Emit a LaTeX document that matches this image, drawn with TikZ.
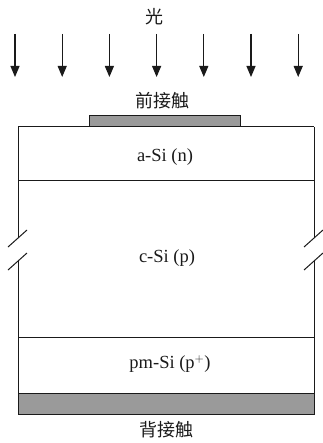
\documentclass[tikz,border=0pt]{standalone}
\usepackage{fontspec}
\setmainfont{Liberation Serif}
\newfontfamily\cjk{Noto Sans CJK SC}
\usetikzlibrary{arrows.meta, positioning}
\definecolor{contact}{HTML}{9A9A9A}
\definecolor{ink}{HTML}{1A1A1A}

\begin{document}
\begin{tikzpicture}[
  x=1pt, y=-1pt,
  >={Triangle[length=11pt, width=9pt]},
  every node/.style={text=ink, font=\fontsize{18.5}{22}\selectfont},
  layer/.style={draw=ink, line width=1pt},
  contactbox/.style={draw=ink, line width=1pt, fill=contact, inner sep=0pt},
  cjklabel/.style={font=\cjk\fontsize{18}{21}\selectfont},
  brk/.style={ink, line width=1pt},
]

% Bounding box
\useasboundingbox (0,0) rectangle (322,443);

% Light
\node[cjklabel] (light) at (154,17) {光};
\foreach \i in {0,...,6}
  \draw[ink, line width=1.1pt, ->] ({15+47.2*\i},34) -- ({15+47.2*\i},77);

% Front contact
\node[cjklabel] (frontlbl) at (162,101) {前接触};
\node[contactbox, minimum width=151pt, minimum height=11pt] (front) at (164.5,121.5) {};

% Layers
\draw[layer] (18,127) -- (314,127);
\draw[layer] (18,181) -- (314,181);
\draw[layer] (18,337) -- (314,337);
\node (asi) at (165,157) {a-Si (n)};
\node (csi) at (167,258) {c-Si (p)};
\node (pmsi) at (170,364) {pm-Si (p$^{+}$)};

% Side walls with break marks
\foreach \xx in {18,314} {
  \draw[layer] (\xx,127) -- (\xx,238);
  \draw[layer] (\xx,261) -- (\xx,393);
  \draw[brk] (\xx-10,247) -- (\xx+9,230);
  \draw[brk] (\xx-10,270) -- (\xx+9,253);
}

% Back contact
\node[contactbox, minimum width=296pt, minimum height=21pt] (back) at (166,403.5) {};
\node[cjklabel] (backlbl) at (166,430) {背接触};

\end{tikzpicture}
\end{document}
